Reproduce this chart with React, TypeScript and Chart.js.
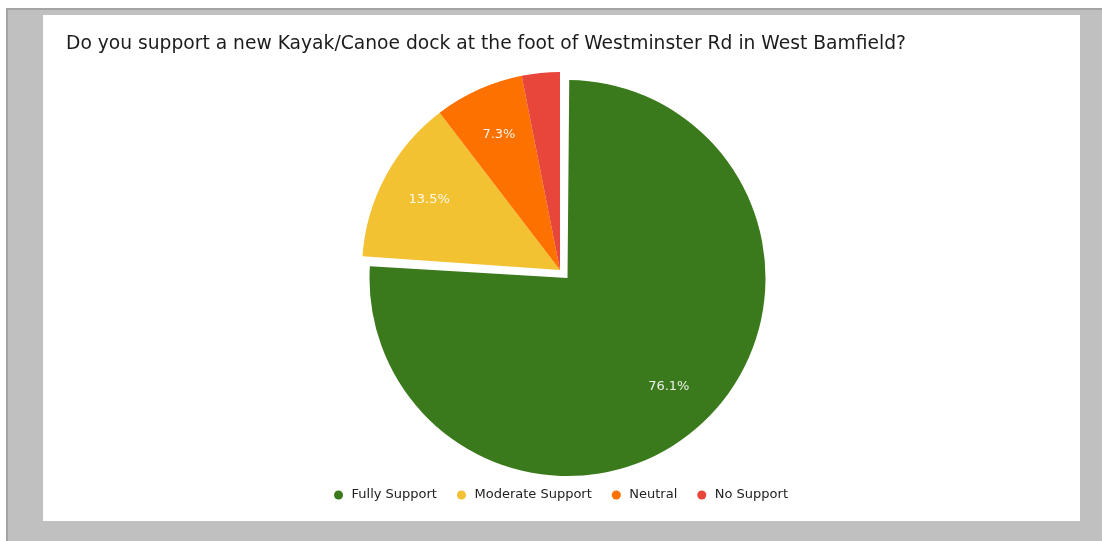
import React, { useEffect, useRef } from "react";
import { Chart, registerables } from "chart.js";

Chart.register(...registerables);

const TITLE = "Do you support a new Kayak/Canoe dock at the foot of Westminster Rd in West Bamfield?";
const categories = ["Fully Support", "Moderate Support", "Neutral", "No Support"];
const shares = [76.1, 13.5, 7.3, 3.1];
const sliceColors = ["#3b7a1c", "#f2c232", "#fd7100", "#e8453b"];
const explodeOffsets = [44, 0, 0, 0];
const FONT = "'DejaVu Sans', Verdana, sans-serif";

const explodeFix = {
  id: "explodeFix",
  afterDatasetUpdate(chart: any, args: any) {
    const meta = args.meta;
    meta.data.forEach((arc: any, i: number) => {
      const off = explodeOffsets[i] || 0;
      if (off && arc.circumference > Math.PI) arc.outerRadius -= off / 4;
    });
  },
};

const sliceLabels = {
  id: "sliceLabels",
  afterDatasetsDraw(chart: any) {
    const ctx = chart.ctx;
    const meta = chart.getDatasetMeta(0);
    ctx.save();
    ctx.font = `13px ${FONT}`;
    ctx.fillStyle = "rgba(255,255,255,0.9)";
    ctx.textAlign = "center";
    ctx.textBaseline = "middle";
    meta.data.forEach((arc: any, i: number) => {
      if (shares[i] < 5) return;
      const mid = (arc.startAngle + arc.endAngle) / 2;
      const shift = (explodeOffsets[i] || 0) / 4;
      const r = arc.outerRadius + (arc.circumference > Math.PI ? shift : 0);
      const cx = arc.x + Math.cos(mid) * shift;
      const cy = arc.y + Math.sin(mid) * shift;
      const tx = cx + Math.cos(mid) * r * 0.75;
      const ty = cy + Math.sin(mid) * r * 0.75;
      ctx.fillText(shares[i].toFixed(1) + "%", tx, ty);
    });
    ctx.restore();
  },
};

export default function App() {
  const ref = useRef<HTMLCanvasElement | null>(null);
  useEffect(() => {
    if (!ref.current) return;
    const chart = new Chart(ref.current, {
      type: "pie",
      data: {
        labels: categories,
        datasets: [
          {
            data: shares,
            backgroundColor: sliceColors,
            borderWidth: 0,
            offset: explodeOffsets,
          },
        ],
      },
      options: {
        responsive: false,
        animation: false,
        events: [],
        radius: 198,
        layout: { padding: { left: 23, right: 26, top: 0, bottom: 9.5 } },
        plugins: {
          title: {
            display: true,
            text: TITLE,
            align: "start",
            color: "#1c1c1c",
            font: { family: FONT, size: 18.7, weight: "normal" },
            padding: { top: 17.8, bottom: 14.3 },
          },
          legend: {
            position: "bottom",
            labels: {
              usePointStyle: true,
              pointStyle: "circle",
              boxWidth: 13,
              boxHeight: 6.4,
              padding: 18,
              color: "#222",
              font: { family: FONT, size: 13 },
            },
          },
          tooltip: { enabled: false },
        },
      },
      plugins: [explodeFix, sliceLabels],
    } as any);
    return () => chart.destroy();
  }, []);

  return (
    <div style={{ position: "absolute", left: 0, top: 0, width: 1102, height: 541, background: "#fff", overflow: "hidden" }}>
      <div
        style={{
          position: "absolute",
          left: 6,
          top: 8,
          width: 1096,
          height: 533,
          background: "#c0c0c0",
          borderLeft: "2px solid #a4a4a4",
          borderTop: "2px solid #a4a4a4",
          boxSizing: "border-box",
        }}
      />
      <div style={{ position: "absolute", left: 43, top: 15, width: 1037, height: 506, background: "#fff" }}>
        <canvas ref={ref} width={1037} height={506} style={{ width: 1037, height: 506, display: "block" }} />
      </div>
    </div>
  );
}
